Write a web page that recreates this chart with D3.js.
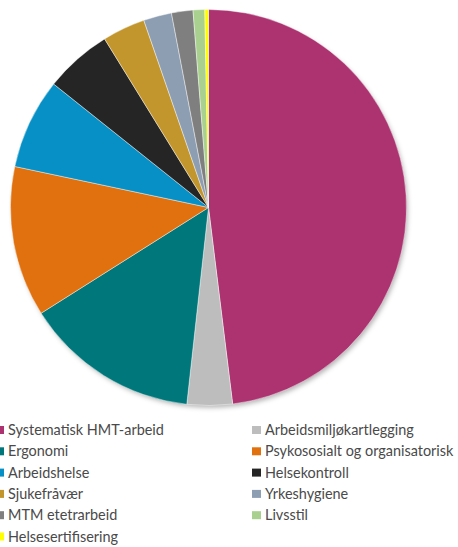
<!DOCTYPE html>
<html><head><meta charset="utf-8">
<script src="https://cdn.jsdelivr.net/npm/d3@7/dist/d3.min.js"></script>
<style>html,body{margin:0;padding:0;background:#fff;}svg{display:block;}</style>
</head><body>
<svg id="chart" width="458" height="547"></svg>
<script>
const categories = ["Systematisk HMT-arbeid","Arbeidsmiljøkartlegging","Ergonomi","Psykososialt og organisatorisk","Arbeidshelse","Helsekontroll","Sjukefråvær","Yrkeshygiene","MTM etetrarbeid","Livsstil","Helsesertifisering"];
const values = [48.1, 3.7, 14.3, 12.3, 7.4, 5.5, 3.5, 2.3, 1.75, 0.95, 0.3];
const colors = ["#AC3270","#BDBDBD","#00777B","#E1700E","#0690C6","#252525","#C2962C","#8D9EB2","#7F7F7F","#A9D08E","#FFFF00"];

const svg = d3.select("#chart");
const defs = svg.append("defs");
const f = defs.append("filter").attr("id","sh").attr("x","-10%").attr("y","-10%").attr("width","130%").attr("height","130%");
f.append("feDropShadow").attr("dx",2).attr("dy",3).attr("stdDeviation",2.5).attr("flood-color","#000").attr("flood-opacity",0.3);

const cx = 208.5, cy = 207.5, r = 198;
const data = categories.map((c,i)=>({name:c, value:values[i], color:colors[i]}));
const pie = d3.pie().value(d=>d.value).sort(null);
const arc = d3.arc().innerRadius(0).outerRadius(r);
const g = svg.append("g").attr("transform",`translate(${cx},${cy})`);
g.append("circle").attr("r",r-1).attr("fill","#fff").attr("filter","url(#sh)");
g.selectAll("path").data(pie(data)).join("path")
  .attr("d",arc).attr("fill",d=>d.data.color)
  .attr("stroke","#fff").attr("stroke-width",0.6).attr("stroke-opacity",0.7);

const color = d3.scaleOrdinal().domain(categories).range(colors);
const leg = svg.append("g").attr("font-family","Lato, sans-serif").attr("fill","#4a4a4a");
// pick font size so first label is ~156px wide, as in the reference
const probe = leg.append("text").attr("font-size",14).text(categories[0]);
const w14 = probe.node().getComputedTextLength();
probe.remove();
const fs = Math.min(17, 14*156/w14);
leg.attr("font-size", fs);
const colX = [0, 252], rowY0 = 430, rowH = 21.3;
categories.forEach((c,i)=>{
  const col = i%2, row = Math.floor(i/2);
  const x = colX[col], y = rowY0 + row*rowH;
  leg.append("rect").attr("x", col===0 ? -5 : x).attr("y", y-4).attr("width",9).attr("height",8).attr("fill",color(c));
  leg.append("text").attr("x", col===0 ? 8 : x+13).attr("y", y).attr("dy","0.35em").text(c);
});
</script>
</body></html>
